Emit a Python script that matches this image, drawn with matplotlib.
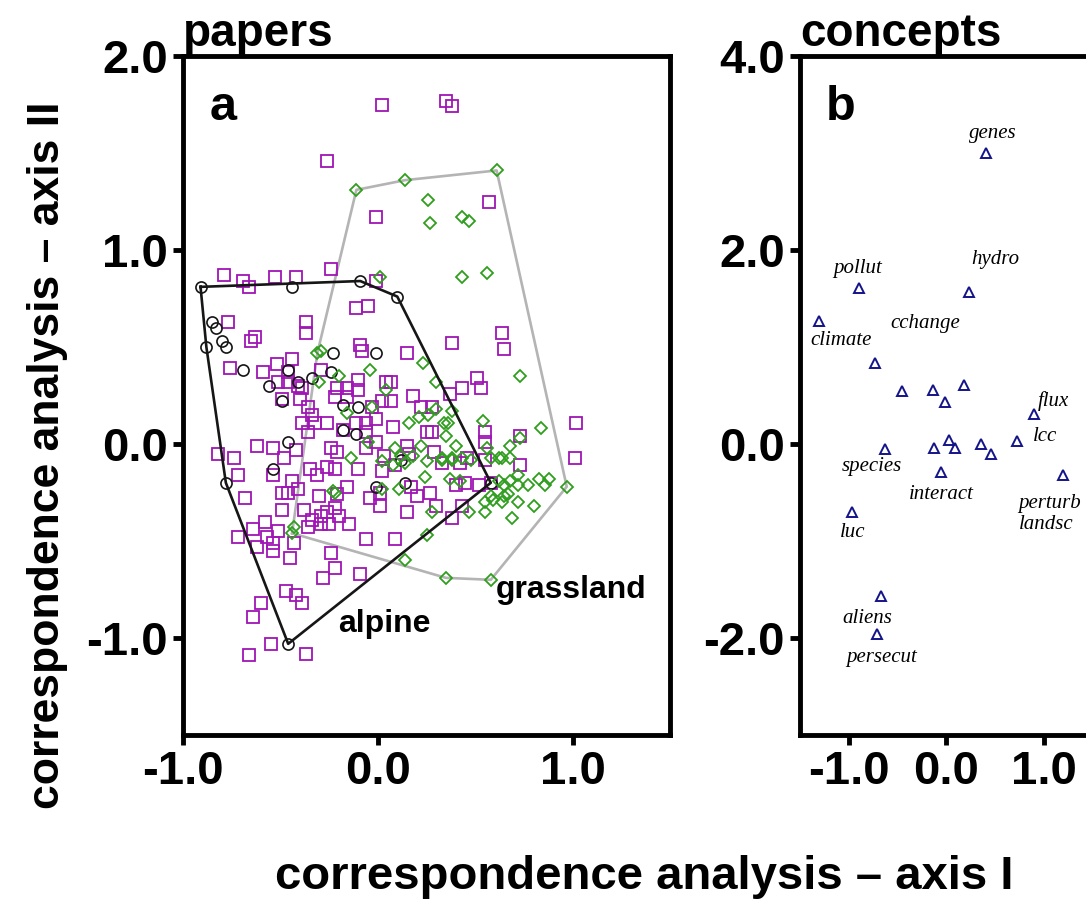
import numpy as np
import matplotlib
matplotlib.use("Agg")
import matplotlib.pyplot as plt
from matplotlib.ticker import FormatStrFormatter

# papers on the first two CA axes (panel a)
other_papers = [
    (0.02, 1.75), (0.35, 1.77), (0.38, 1.74), (-0.26, 1.46), (0.57, 1.25),
    (-0.01, 1.17), (-0.79, 0.87), (-0.69, 0.84), (-0.66, 0.81), (-0.53, 0.86),
    (-0.42, 0.86), (-0.24, 0.90), (-0.01, 0.84), (-0.11, 0.70), (-0.05, 0.71),
    (-0.77, 0.63), (-0.65, 0.53), (-0.63, 0.55), (-0.37, 0.63), (-0.37, 0.57),
    (-0.09, 0.51), (-0.08, 0.48), (0.15, 0.47), (0.38, 0.52), (0.64, 0.57),
    (0.65, 0.49), (-0.76, 0.39), (-0.59, 0.37), (-0.52, 0.41), (-0.44, 0.44),
    (-0.46, 0.37), (-0.29, 0.38), (0.51, 0.34), (0.53, 0.29), (0.43, 0.29),
    (0.18, 0.25), (0.04, 0.32), (-0.10, 0.33), (-0.16, 0.29), (-0.21, 0.29),
    (-0.39, 0.29), (-0.51, 0.32), (-0.46, 0.32), (-0.41, 0.30), (-0.10, 0.28),
    (-0.49, 0.23), (-0.40, 0.23), (-0.36, 0.19), (-0.22, 0.24), (-0.16, 0.24),
    (-0.03, 0.19), (0.02, 0.22), (-0.34, 0.15), (-0.32, 0.11), (-0.39, 0.11),
    (-0.26, 0.11), (-0.36, 0.06), (-0.11, 0.11), (-0.06, 0.11), (-0.01, 0.13),
    (-0.18, 0.07), (-0.06, 0.06), (-0.01, 0.01), (-0.48, -0.07), (-0.24, -0.02),
    (-0.21, -0.04), (-0.06, -0.02), (0.03, -0.06), (1.02, 0.11), (1.01, -0.07),
    (0.73, 0.04), (0.73, -0.11), (0.55, 0.06), (0.55, 0.01), (-0.82, -0.05),
    (-0.74, -0.07), (-0.72, -0.16), (-0.54, -0.16), (-0.68, -0.28), (-0.62, -0.01),
    (-0.54, -0.02), (-0.42, -0.03), (-0.72, -0.48), (-0.64, -0.44), (-0.62, -0.53),
    (-0.58, -0.40), (-0.54, -0.51), (-0.54, -0.55), (-0.51, -0.45), (-0.43, -0.51),
    (-0.45, -0.59), (-0.24, -0.56), (-0.22, -0.64), (-0.28, -0.69), (-0.09, -0.67),
    (-0.06, -0.49), (0.09, -0.49), (-0.47, -0.76), (-0.42, -0.78), (-0.39, -0.82),
    (-0.60, -0.82), (-0.64, -0.89), (-0.55, -1.03), (-0.66, -1.09), (-0.37, -1.08),
    (0.38, -0.38), (0.15, -0.35), (0.30, -0.32), (0.01, -0.32), (-0.04, -0.28),
    (-0.15, -0.41), (0.07, 0.32), (0.07, 0.22), (0.22, 0.19), (0.28, 0.19),
    (0.37, 0.26), (0.08, 0.09), (0.25, 0.06), (0.28, 0.06), (0.15, -0.01),
    (0.16, -0.05), (0.29, -0.04), (0.46, -0.07), (-0.35, -0.13), (-0.31, -0.16),
    (-0.26, -0.12), (-0.22, -0.13), (-0.10, -0.13), (0.02, -0.14), (-0.44, -0.19),
    (-0.41, -0.23), (-0.49, -0.25), (-0.46, -0.25), (-0.30, -0.27), (-0.21, -0.26),
    (-0.16, -0.22), (-0.49, -0.34), (-0.38, -0.34), (-0.29, -0.37), (-0.26, -0.35),
    (-0.22, -0.33), (-0.20, -0.37), (-0.25, -0.41), (-0.29, -0.41), (-0.34, -0.39),
    (-0.57, -0.48), (-0.36, -0.43), (0.01, -0.25), (0.09, -0.11), (0.33, -0.10),
    (0.42, -0.10), (0.55, -0.08), (0.17, -0.22), (0.20, -0.27), (0.27, -0.25),
    (0.43, -0.32), (0.40, -0.21), (0.45, -0.20), (0.52, -0.21), (0.58, -0.20),
]

alpine_papers = [
    (-0.91, 0.81), (-0.44, 0.81), (-0.09, 0.84), (0.10, 0.76), (-0.85, 0.63),
    (-0.83, 0.60), (-0.80, 0.53), (-0.78, 0.50), (-0.88, 0.50), (-0.69, 0.38),
    (-0.23, 0.47), (-0.01, 0.47), (-0.46, 0.38), (-0.56, 0.30), (-0.41, 0.32),
    (-0.34, 0.34), (-0.24, 0.37), (-0.46, -1.03), (-0.78, -0.20), (-0.54, -0.13),
    (-0.46, 0.01), (-0.18, 0.07), (-0.11, 0.05), (-0.18, 0.20), (-0.10, 0.19),
    (-0.49, 0.22), (0.14, -0.20), (0.58, -0.20), (-0.01, -0.22), (0.12, -0.08),
]

grassland_papers = [
    (-0.11, 1.31), (0.14, 1.36), (0.61, 1.41), (0.26, 1.26), (0.27, 1.14),
    (0.43, 1.17), (0.47, 1.15), (0.01, 0.86), (0.43, 0.86), (0.56, 0.88),
    (-0.29, 0.48), (-0.31, 0.47), (0.23, 0.42), (-0.04, 0.38), (-0.20, 0.35),
    (0.73, 0.35), (0.30, 0.32), (-0.30, 0.32), (0.04, 0.28), (0.97, -0.22),
    (0.58, -0.70), (0.35, -0.69), (0.14, -0.60), (-0.43, -0.43), (-0.44, -0.46),
    (0.25, -0.47), (0.28, -0.35), (0.47, -0.35), (0.55, -0.35), (0.69, -0.38),
    (0.80, -0.32), (0.72, -0.30), (0.64, -0.30), (0.59, -0.29), (0.88, -0.18),
    (0.83, -0.18), (0.86, -0.21), (0.77, -0.21), (0.84, 0.08), (0.73, 0.03),
    (0.68, -0.01), (0.54, 0.12), (-0.14, -0.07), (-0.23, -0.24), (-0.22, -0.25),
    (-0.16, 0.16), (-0.03, 0.19), (-0.05, 0.01), (0.16, 0.11), (0.21, 0.14),
    (0.26, 0.15), (0.30, 0.18), (0.38, 0.17), (0.34, 0.11), (0.36, 0.11),
    (0.35, 0.04), (0.40, -0.01), (0.22, -0.01), (0.09, -0.02), (0.12, -0.06),
    (0.18, -0.06), (0.56, -0.02), (0.58, -0.07), (0.64, -0.07), (0.33, -0.07),
    (0.38, -0.07), (0.02, -0.09), (0.02, -0.23), (0.08, -0.11), (0.14, -0.10),
    (0.25, -0.09), (0.33, -0.08), (0.38, -0.08), (0.43, -0.07), (0.48, -0.08),
    (0.62, -0.07), (0.68, -0.07), (0.24, -0.17), (0.37, -0.18), (0.42, -0.19),
    (0.11, -0.23), (0.55, -0.30), (0.58, -0.27), (0.65, -0.27), (0.62, -0.19),
    (0.68, -0.19), (0.72, -0.21), (0.72, -0.16), (0.65, -0.21), (0.67, -0.26),
]

# concepts (panel b)
concept_names = [
    "genes", "hydro", "pollut", "climate", "cchange", "", "", "", "",
    "flux", "lcc", "species", "", "", "", "", "", "interact",
    "perturb\nlandsc", "luc", "aliens", "persecut",
]
concept_x = [0.41, 0.23, -0.89, -1.31, -0.73, -0.45, -0.13, -0.01, 0.18,
             0.90, 0.73, -0.63, -0.12, 0.03, 0.09, 0.36, 0.46, -0.05,
             1.20, -0.97, -0.67, -0.71]
concept_y = [3.00, 1.57, 1.61, 1.27, 0.83, 0.55, 0.56, 0.43, 0.61,
             0.31, 0.03, -0.05, -0.04, 0.04, -0.04, 0.00, -0.10, -0.29,
             -0.32, -0.70, -1.57, -1.96]

# where each concept label sits relative to its triangle (points)
label_offsets = {
    "genes": (5, 14), "hydro": (19, 23), "pollut": (-1, 14),
    "climate": (16, -14), "cchange": (36, 29), "flux": (14, 9),
    "lcc": (20, 3), "species": (-9, -13), "interact": (0, -16),
    "perturb\nlandsc": (-32, -28), "luc": (1, -15), "aliens": (-10, -16),
    "persecut": (3, -17),
}

MAGENTA = "#a015b5"
GREEN = "#2f9e1e"
NAVY = "#14148a"
HULL_GREY = "#b4b4b4"


def convex_hull(points):
    pts = sorted(set(points))

    def cross(o, a, b):
        return (a[0] - o[0]) * (b[1] - o[1]) - (a[1] - o[1]) * (b[0] - o[0])

    lower, upper = [], []
    for p in pts:
        while len(lower) >= 2 and cross(lower[-2], lower[-1], p) <= 0:
            lower.pop()
        lower.append(p)
    for p in reversed(pts):
        while len(upper) >= 2 and cross(upper[-2], upper[-1], p) <= 0:
            upper.pop()
        upper.append(p)
    hull = lower[:-1] + upper[:-1]
    hull.append(hull[0])
    return np.array(hull)


def style_axes(ax):
    for side in ax.spines.values():
        side.set_linewidth(3.5)
    ax.tick_params(direction="out", length=7, width=3.5, pad=4,
                   labelsize=34)
    ax.xaxis.set_major_formatter(FormatStrFormatter("%.1f"))
    ax.yaxis.set_major_formatter(FormatStrFormatter("%.1f"))


plt.rcParams["font.family"] = ["Liberation Sans", "DejaVu Sans"]
plt.rcParams["font.weight"] = "bold"
plt.rcParams["axes.unicode_minus"] = False

fig = plt.figure(figsize=(10.86, 9.01), dpi=100)
W, H = 1086.0, 901.0
ax_a = fig.add_axes([183 / W, 1 - 735 / H, 487 / W, 679 / H])
ax_b = fig.add_axes([800 / W, 1 - 735 / H, 487 / W, 679 / H])

# panel a
other = np.array(other_papers)
alpine = np.array(alpine_papers)
grass = np.array(grassland_papers)

ax_a.plot(other[:, 0], other[:, 1], ls="none", marker="s", ms=9.3,
          mfc="none", mec=MAGENTA, mew=1.3, zorder=2)
ax_a.plot(alpine[:, 0], alpine[:, 1], ls="none", marker="o", ms=8,
          mfc="none", mec="#151515", mew=1.2, zorder=3)
ax_a.plot(grass[:, 0], grass[:, 1], ls="none", marker="D", ms=6.2,
          mfc="none", mec=GREEN, mew=1.3, zorder=3)

hull = convex_hull(alpine_papers)
ax_a.plot(hull[:, 0], hull[:, 1], color="#161616", lw=1.9, zorder=4)
hull = convex_hull(grassland_papers)
ax_a.plot(hull[:, 0], hull[:, 1], color=HULL_GREY, lw=1.9, zorder=1)

ax_a.text(-0.205, -0.97, "alpine", fontsize=23, ha="left", va="baseline")
ax_a.text(0.605, -0.795, "grassland", fontsize=23, ha="left", va="baseline")
ax_a.text(0.055, 0.906, "a", transform=ax_a.transAxes, fontsize=35,
          ha="left", va="baseline")

ax_a.set_xlim(-1.0, 1.5)
ax_a.set_ylim(-1.5, 2.0)
ax_a.set_xticks([-1.0, 0.0, 1.0])
ax_a.set_yticks([-1.0, 0.0, 1.0, 2.0])
style_axes(ax_a)
ax_a.set_title("papers", loc="left", fontsize=33, fontweight="bold", pad=5)

# panel b
ax_b.plot(concept_x, concept_y, ls="none", marker="^", ms=7.8,
          mfc="none", mec=NAVY, mew=1.4)
for name, x, y in zip(concept_names, concept_x, concept_y):
    if not name:
        continue
    dx, dy = label_offsets[name]
    ax_b.annotate(name, (x, y), xytext=(dx, dy), textcoords="offset points",
                  ha="left" if "\n" in name else "center", va="center",
                  family=["Liberation Serif", "DejaVu Serif"],
                  style="italic", weight="normal", fontsize=15,
                  linespacing=1.1)

ax_b.text(0.053, 0.906, "b", transform=ax_b.transAxes, fontsize=35,
          ha="left", va="baseline")

ax_b.set_xlim(-1.5, 3.5)
ax_b.set_ylim(-3.0, 4.0)
ax_b.set_xticks([-1.0, 0.0, 1.0])
ax_b.set_yticks([-2.0, 0.0, 2.0, 4.0])
style_axes(ax_b)
ax_b.set_title("concepts", loc="left", fontsize=33, fontweight="bold", pad=5)

fig.text(644 / W, 12 / H, "correspondence analysis \u2013 axis I",
         fontsize=34, ha="center", va="baseline")
fig.text(48 / W, 0.495, "correspondence analysis \u2013 axis II",
         fontsize=32, rotation=90, ha="center", va="center")

fig.savefig("out.png", dpi=100)
